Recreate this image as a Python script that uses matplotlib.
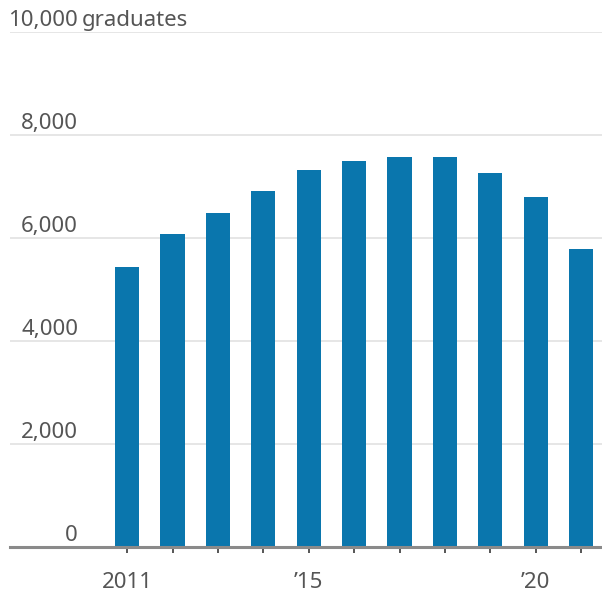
import matplotlib
matplotlib.use("Agg")
import matplotlib.pyplot as plt
import matplotlib.transforms as mtransforms

plt.rcParams['font.family'] = ['Noto Sans', 'DejaVu Sans']

years = [2011, 2012, 2013, 2014, 2015, 2016, 2017, 2018, 2019, 2020, 2021]
graduates = [5440, 6070, 6490, 6920, 7330, 7490, 7570, 7570, 7270, 6800, 5790]
x_tick_labels = ['2011', '', '', '', '\u201915', '', '', '', '', '\u201920', '']
y_ticks = [0, 2000, 4000, 6000, 8000, 10000]
y_tick_labels = ['0', '2,000', '4,000', '6,000', '8,000', '10,000']
unit_label = 'graduates'

BAR = '#0a76ad'
TXT = '#555555'
FS = 16

fig = plt.figure(figsize=(6.02, 5.95), dpi=100)
ax = fig.add_axes([10/602, 48/595, 592/602, 515/595])

ax.bar(years, graduates, width=0.53, color=BAR, zorder=3)

ax.set_xlim(2008.42, 2021.46)
ax.set_ylim(0, 10000)

for s in ['top', 'right', 'left']:
    ax.spines[s].set_visible(False)
ax.spines['bottom'].set_color('#8a8a8a')
ax.spines['bottom'].set_linewidth(2.2)
ax.spines['bottom'].set_zorder(4)

for v in y_ticks[1:]:
    ax.axhline(v, color='#e2e2e2', lw=1.2, zorder=1)

ax.set_yticks([])
ax.set_xticks(years)
ax.set_xticklabels(x_tick_labels)
ax.tick_params(axis='x', which='major', length=4, width=1.4, color='#555555',
               pad=14, labelsize=FS, labelcolor=TXT)
ax.set_xticks([2015, 2020], minor=True)
ax.tick_params(axis='x', which='minor', length=8, width=1.4, color='#555555')

trans = mtransforms.blended_transform_factory(ax.transAxes, ax.transData)
off = mtransforms.offset_copy(trans, fig=fig, x=0, y=6, units='dots')
xr = (78 - 10) / 592
for v, lab in zip(y_ticks, y_tick_labels):
    ax.text(xr, v, lab, transform=off, ha='right', va='baseline',
            fontsize=FS, color=TXT, zorder=5)
off2 = mtransforms.offset_copy(trans, fig=fig, x=4, y=6, units='dots')
ax.text(xr, y_ticks[-1], unit_label, transform=off2, ha='left', va='baseline',
        fontsize=FS, color=TXT, zorder=5)

fig.savefig('out.png', dpi=100)
